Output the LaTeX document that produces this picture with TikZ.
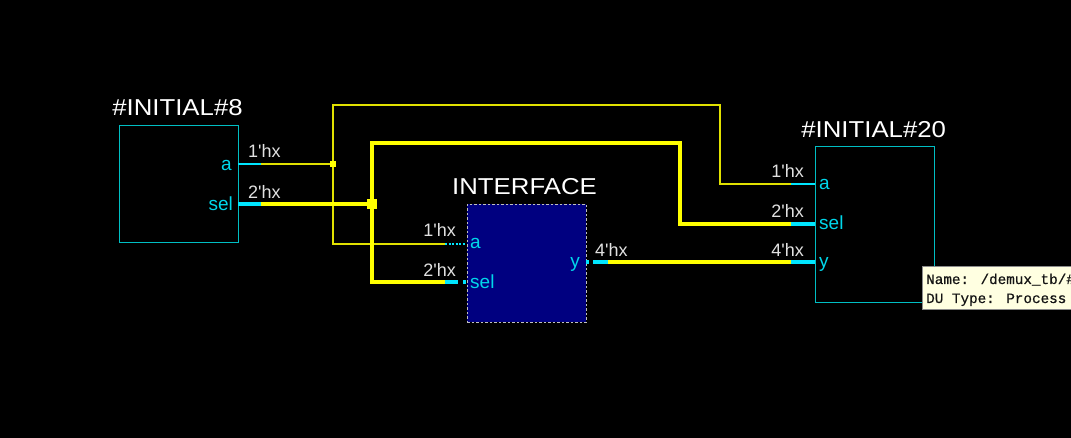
\documentclass[tikz,border=0pt]{standalone}
\usepackage{fontspec}
\setmainfont{Liberation Sans}[Ligatures=TeXOff]
\newfontfamily\titlefont{Liberation Sans}[FakeStretch=1.12,Ligatures=TeXOff]
\newfontfamily\netfont{Liberation Sans}[Ligatures=TeXOff]
\newfontfamily\tipfont{Liberation Mono}[FakeBold=0.6,Ligatures=TeXOff]
\definecolor{boxc}{RGB}{0,190,195}
\definecolor{portc}{RGB}{0,215,235}
\definecolor{stubc}{RGB}{0,230,255}
\definecolor{netc}{RGB}{255,255,0}
\definecolor{thinnet}{RGB}{225,225,0}
\definecolor{lblc}{RGB}{225,225,225}
\definecolor{navy}{RGB}{0,0,128}
\definecolor{tipbg}{RGB}{255,255,225}
\definecolor{tiptext}{RGB}{20,20,20}
\tikzset{
  blk/.style={draw=boxc, line width=1.2pt, inner sep=0, anchor=north west},
  title/.style={font=\titlefont\fontsize{23}{27}\selectfont, text=white, inner sep=0, anchor=base},
  netlbl/.style={font=\netfont\fontsize{18}{20}\selectfont, text=lblc, inner sep=0},
  portlbl/.style={font=\netfont\fontsize{19}{21}\selectfont, text=portc, inner sep=0},
  thin net/.style={draw=thinnet, line width=1.2pt, line join=miter},
  thick net/.style={draw=netc, line width=4.5pt, line join=miter},
  thin stub/.style={draw=stubc, line width=1.4pt},
  thick stub/.style={draw=stubc, line width=4.5pt},
}
\begin{document}
\begin{tikzpicture}[x=1pt,y=-1pt]
\useasboundingbox (0,0) rectangle (1071,438);
\clip (0,0) rectangle (1071,438);
\fill[black] (0,0) rectangle (1071,438);

% blocks
\node[blk, minimum width=119pt, minimum height=117pt] (i8) at (119,125) {};
\node[blk, minimum width=119pt, minimum height=156pt] (i20) at (815,146) {};
\node[draw=white!75!black, fill=navy, line width=0.8pt, dash pattern=on 2.5pt off 2pt, inner sep=0, anchor=north west, minimum width=119pt, minimum height=118pt] (itf) at (467,204) {};

% titles
\node[title] (t8) at (177.5,116) {\#INITIAL\#8};
\node[title] (t20) at (873.7,138) {\#INITIAL\#20};
\node[title] (titf) at (524.5,195) {INTERFACE};

% pin / net coordinates
\coordinate (i8a) at (238,164);
\coordinate (i8aS) at (261,164);
\coordinate (jA) at (333,164);
\coordinate (i8s) at (238,204);
\coordinate (i8sS) at (261,204);
\coordinate (jS) at (372,204);
\coordinate (aT) at (333,105);
\coordinate (aR) at (720,105);
\coordinate (aR2) at (720,184);
\coordinate (i20aS) at (791,184);
\coordinate (i20a) at (815,184);
\coordinate (aB) at (333,244);
\coordinate (itfaS) at (445,244);
\coordinate (itfa) at (466,244);
\coordinate (sT) at (372,143);
\coordinate (sR) at (680,143);
\coordinate (sR2) at (680,224);
\coordinate (i20sS) at (791,224);
\coordinate (i20s) at (815,224);
\coordinate (sB) at (372,282);
\coordinate (itfsS) at (445,282);
\coordinate (itfsE) at (458,282);
\coordinate (itfs1) at (463,282);
\coordinate (itfs) at (466,282);
\coordinate (itfy) at (586,262);
\coordinate (itfy1) at (589,262);
\coordinate (yS1) at (593,262);
\coordinate (yS2) at (608,262);
\coordinate (i20yS) at (791,262);
\coordinate (i20y) at (815,262);

% thin net (a)
\draw[thin net] (i8aS) -- (jA);
\draw[thin net] (jA) -- (aT) -- (aR) -- (aR2) -- (i20aS);
\draw[thin net] (jA) -- (aB) -- (itfaS);
\draw[thin stub] (i8a) -- (i8aS);
\draw[thin stub] (i20aS) -- (i20a);
\draw[draw=stubc, line width=1.4pt, dash pattern=on 2pt off 1.5pt] (itfaS) -- (itfa);

% thick net (sel)
\draw[thick net] (i8sS) -- (jS);
\draw[thick net] (jS) -- (sT) -- (sR) -- (sR2) -- (i20sS);
\draw[thick net] (jS) -- (sB) -- (itfsS);
\draw[thick stub] (i8s) -- (i8sS);
\draw[thick stub] (i20sS) -- (i20s);
\draw[thick stub] (itfsS) -- (itfsE);
\draw[thick stub] (itfs1) -- (itfs);

% output y
\draw[thick stub] (itfy) -- (itfy1);
\draw[thick stub] (yS1) -- (yS2);
\draw[thick net] (yS2) -- (i20yS);
\draw[thick stub] (i20yS) -- (i20y);

% junctions
\node[fill=netc, minimum size=6pt, inner sep=0] (dotA) at (jA) {};
\node[fill=netc, minimum size=10pt, inner sep=0] (dotS) at (jS) {};

% net labels
\node[netlbl, anchor=base west] (l1) at (248,158) {1'hx};
\node[netlbl, anchor=base west] (l2) at (248,199) {2'hx};
\node[netlbl, anchor=base east] (l3) at (456,237) {1'hx};
\node[netlbl, anchor=base east] (l4) at (456,277) {2'hx};
\node[netlbl, anchor=base west] (l5) at (595,257) {4'hx};
\node[netlbl, anchor=base east] (l6) at (804,178) {1'hx};
\node[netlbl, anchor=base east] (l7) at (804,218) {2'hx};
\node[netlbl, anchor=base east] (l8) at (804,257) {4'hx};

% port labels
\node[portlbl, anchor=base east] (p1) at (232,171) {a};
\node[portlbl, anchor=base east] (p2) at (233,211) {sel};
\node[portlbl, anchor=base west] (p3) at (470,249) {a};
\node[portlbl, anchor=base west] (p4) at (470,289) {sel};
\node[portlbl, anchor=base east] (p5) at (580,268) {y};
\node[portlbl, anchor=base west] (p6) at (819,190) {a};
\node[portlbl, anchor=base west] (p7) at (819,230) {sel};
\node[portlbl, anchor=base west] (p8) at (819,268) {y};

% tooltip
\node[draw=black!45, fill=tipbg, line width=1pt, inner sep=0, anchor=north west, minimum width=160pt, minimum height=43pt] (tip) at (922,266) {};
\node[font=\tipfont\fontsize{14.3}{16}\selectfont, text=tiptext, inner sep=0, anchor=base west] (tip1) at (926,284) {Name: /demux\_tb/\#};
\node[font=\tipfont\fontsize{14.3}{16}\selectfont, text=tiptext, inner sep=0, anchor=base west] (tip2) at (926,303) {DU Type: Process};
\end{tikzpicture}
\end{document}
